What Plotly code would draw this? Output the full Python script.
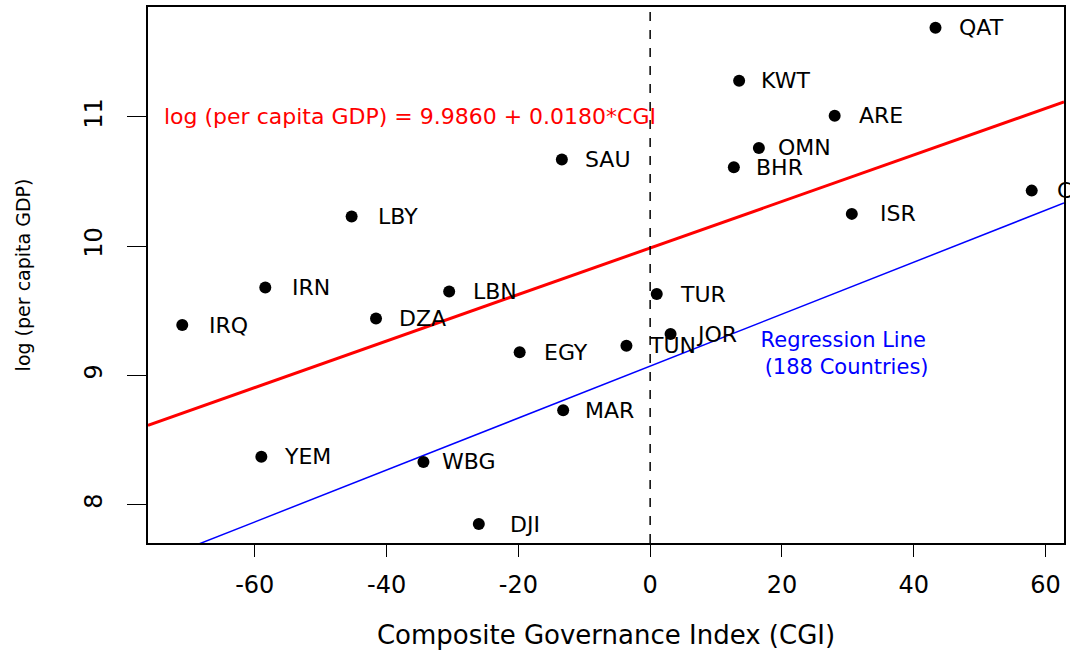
import plotly.graph_objects as go

# ---- data ----
countries = ["QAT", "KWT", "ARE", "OMN", "BHR", "CYP", "ISR", "SAU", "LBY", "TUR",
             "JOR", "TUN", "IRN", "LBN", "IRQ", "DZA", "EGY", "MAR", "YEM", "WBG", "DJI"]
cgi = [43.3, 13.5, 28.0, 16.5, 12.7, 57.9, 30.6, -13.4, -45.3, 1.0,
       3.1, -3.6, -58.4, -30.5, -71.0, -41.6, -19.8, -13.2, -59.0, -34.4, -26.0]
log_gdp = [11.69, 11.28, 11.01, 10.76, 10.61, 10.43, 10.25, 10.67, 10.23, 9.63,
           9.32, 9.23, 9.68, 9.65, 9.39, 9.44, 9.18, 8.73, 8.37, 8.33, 7.85]

# regression lines (intercept, slope)
mena_line = (9.9860, 0.0180)
world_line = (9.072, 0.0201)

x_ticks = [-60, -40, -20, 0, 20, 40, 60]
y_ticks = [8, 9, 10, 11]
x_range = [-76.2, 62.8]
y_range = [7.703, 11.851]

FONT = "DejaVu Sans"

fig = go.Figure()

for (a, b), color, width in [(mena_line, "#ff0000", 3), (world_line, "#0000ff", 1.5)]:
    fig.add_trace(go.Scatter(
        x=x_range, y=[a + b * x for x in x_range], mode="lines",
        line=dict(color=color, width=width), hoverinfo="skip", showlegend=False))

fig.add_trace(go.Scatter(
    x=cgi, y=log_gdp, mode="markers",
    marker=dict(color="black", size=12),
    text=countries, showlegend=False))

annotations = []
for c, x, y in zip(countries, cgi, log_gdp):
    annotations.append(dict(
        x=x, y=y, xref="x", yref="y", text=c, showarrow=False,
        xshift=46, xanchor="center", yanchor="middle",
        font=dict(family=FONT, size=22, color="black")))

annotations.append(dict(
    x=-36.5, y=11.0, xref="x", yref="y",
    text="log (per capita GDP) = 9.9860 + 0.0180*CGI", showarrow=False,
    xanchor="center", yanchor="middle",
    font=dict(family=FONT, size=22, color="#ff0000")))

annotations.append(dict(
    x=29.3, y=9.17, xref="x", yref="y",
    text="Regression Line<br> (188 Countries)", showarrow=False,
    xanchor="center", yanchor="middle", align="center",
    font=dict(family=FONT, size=21, color="#0000ff")))

fig.add_vline(x=0, line=dict(color="black", width=1.5, dash="dash"))

fig.update_layout(
    width=1070, height=652,
    margin=dict(l=148, r=4, t=7, b=109),
    paper_bgcolor="white", plot_bgcolor="white",
    font=dict(family=FONT, color="black"),
    annotations=annotations,
    showlegend=False,
)

fig.update_xaxes(
    range=x_range, tickvals=x_ticks, ticktext=[str(v) for v in x_ticks],
    showgrid=False, zeroline=False,
    showline=True, linecolor="black", linewidth=1.5, mirror=True,
    ticks="outside", ticklen=12, tickwidth=1.2, tickcolor="black",
    ticklabelstandoff=7,
    tickfont=dict(family=FONT, size=24, color="black"),
    title=dict(text="Composite Governance Index (CGI)",
               font=dict(family=FONT, size=26, color="black"), standoff=28),
)
fig.update_yaxes(
    range=y_range, tickvals=y_ticks, ticktext=[str(v) for v in y_ticks],
    showgrid=False, zeroline=False,
    showline=True, linecolor="black", linewidth=1.5, mirror=True,
    ticks="outside", ticklen=19, tickwidth=1.2, tickcolor="black",
    tickangle=-90, ticklabelstandoff=16,
    tickfont=dict(family=FONT, size=24, color="black"),
    title=dict(text="log (per capita GDP)",
               font=dict(family=FONT, size=19, color="black"), standoff=44),
)

fig.write_html("out.html", config={"displayModeBar": False},
               post_script="document.body.style.margin='0';")
